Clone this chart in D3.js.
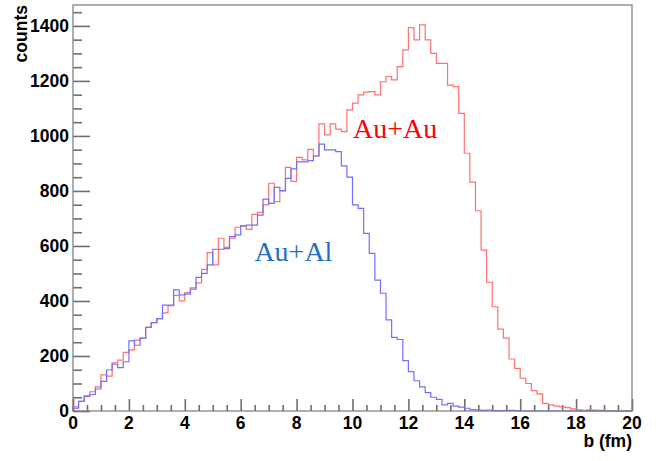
<!DOCTYPE html>
<html>
<head>
<meta charset="utf-8">
<script src="https://cdn.jsdelivr.net/npm/d3@7"></script>
<style>
  html, body { margin: 0; padding: 0; background: #fff; }
  svg { display: block; }
</style>
</head>
<body>
<svg id="chart" width="668" height="461"></svg>
<script>
// ---- Data (100 bins of width 0.2 fm, b from 0 to 20) ----
const binEdges = [0, 20];
const binCount = 100;
const auAu = [
  15, 35, 52, 70, 88, 131, 127, 175, 185, 213,
  222, 258, 265, 304, 321, 336, 357, 383, 420, 400,
  430, 448, 466, 515, 576, 531, 628, 595, 628, 668,
  673, 660, 715, 722, 749, 828, 761, 800, 886, 835,
  922, 913, 951, 927, 1044, 1004, 1044, 1025, 1016, 1095,
  1119, 1149, 1159, 1161, 1149, 1197, 1216, 1204, 1252, 1313,
  1394, 1349, 1404, 1349, 1300, 1264, 1264, 1185, 1179, 1082,
  937, 832, 728, 585, 468, 379, 298, 265, 189, 155,
  119, 100, 74, 62, 28, 22, 18, 15, 12, 8,
  4, 2, 4, 3, 2, 1, 0, 0, 0, 0
];
const auAl = [
  10, 35, 55, 60, 80, 108, 149, 170, 158, 179,
  255, 239, 265, 304, 321, 336, 385, 385, 440, 422,
  425, 443, 486, 500, 531, 588, 588, 590, 634, 640,
  673, 676, 676, 712, 770, 755, 813, 801, 846, 880,
  906, 906, 910, 927, 970, 949, 949, 943, 891, 850,
  749, 737, 646, 573, 476, 428, 331, 268, 260, 183,
  143, 110, 88, 67, 50, 42, 22, 28, 18, 14,
  10, 5, 3, 2, 3, 1, 1, 1, 2, 1,
  0, 0, 0, 0, 0, 0, 0, 0, 0, 0,
  0, 0, 0, 0, 0, 0, 0, 0, 0, 0
];
const seriesNames = ["Au+Au", "Au+Al"];
const xDomain = [0, 20];
const yDomain = [0, 1476];
const xMajorTicks = [0, 2, 4, 6, 8, 10, 12, 14, 16, 18, 20];
const yMajorTicks = [0, 200, 400, 600, 800, 1000, 1200, 1400];
const xTitle = "b (fm)";
const yTitle = "counts";

// ---- Layout ----
const svg = d3.select("#chart");
const L = 73, R = 632, T = 5, B = 411;
const x = d3.scaleLinear().domain(xDomain).range([L, R]);
const y = d3.scaleLinear().domain(yDomain).range([B, T]);
const axisColor = "#6e6e6e";
const tickFont = "'Liberation Sans', Arial, sans-serif";

// histogram path builder
const binW = (binEdges[1] - binEdges[0]) / binCount;
function histPath(vals) {
  const p = d3.path();
  p.moveTo(x(0), y(0));
  vals.forEach((v, i) => {
    p.lineTo(x(i * binW), y(v));
    p.lineTo(x((i + 1) * binW), y(v));
  });
  p.lineTo(x(binCount * binW), y(0));
  return p.toString();
}

// Tick marks (standard d3 axes, drawn inward)
const xMinor = d3.range(0, 20.001, 0.5).filter(v => !xMajorTicks.includes(v));
const yMinor = d3.range(0, 1451, 50).filter(v => !yMajorTicks.includes(v));

function styleAxis(g) {
  g.select(".domain").remove();
  g.selectAll(".tick line").attr("stroke", axisColor).attr("stroke-width", 1.6);
  g.selectAll(".tick text").remove();
}
svg.append("g").attr("transform", `translate(0,${B})`)
  .call(d3.axisTop(x).tickValues(xMajorTicks).tickSize(12)).call(styleAxis);
svg.append("g").attr("transform", `translate(0,${B})`)
  .call(d3.axisTop(x).tickValues(xMinor).tickSize(6)).call(styleAxis);
svg.append("g").attr("transform", `translate(${L},0)`)
  .call(d3.axisRight(y).tickValues(yMajorTicks).tickSize(17)).call(styleAxis);
svg.append("g").attr("transform", `translate(${L},0)`)
  .call(d3.axisRight(y).tickValues(yMinor).tickSize(9)).call(styleAxis);

svg.append("path").attr("d", histPath(auAu))
  .attr("fill", "none").attr("stroke", "#ff7070").attr("stroke-width", 1.2);
svg.append("path").attr("d", histPath(auAl))
  .attr("fill", "none").attr("stroke", "#7070ff").attr("stroke-width", 1.2);

// frame
svg.append("rect")
  .attr("x", L).attr("y", T)
  .attr("width", R - L).attr("height", B - T)
  .attr("fill", "none").attr("stroke", "#7a7a7a").attr("stroke-width", 1.2);

// Tick labels
svg.append("g").selectAll("text").data(xMajorTicks).join("text")
  .attr("x", d => x(d)).attr("y", 429)
  .attr("text-anchor", "middle").attr("font-family", tickFont)
  .attr("font-weight", "bold").attr("font-size", "17.5px").attr("fill", "#000")
  .text(d3.format("d"));
svg.append("g").selectAll("text").data(yMajorTicks).join("text")
  .attr("x", 69).attr("y", d => y(d)).attr("dy", "0.36em")
  .attr("text-anchor", "end").attr("font-family", tickFont)
  .attr("font-weight", "bold").attr("font-size", "17.5px").attr("fill", "#000")
  .text(d3.format("d"));

// Axis titles
svg.append("text").attr("x", R).attr("y", 447)
  .attr("text-anchor", "end").attr("font-family", tickFont)
  .attr("font-weight", "bold").attr("font-size", "17.5px").text(xTitle);
svg.append("text").attr("transform", `translate(27,${T}) rotate(-90)`)
  .attr("text-anchor", "end").attr("font-family", tickFont)
  .attr("font-weight", "bold").attr("font-size", "17.5px").text(yTitle);

// Series labels
const serif = "'Liberation Serif', 'Times New Roman', serif";
svg.append("text").attr("x", x(10.02)).attr("y", y(993))
  .attr("font-family", serif).attr("font-size", "28px").attr("fill", "#ff0000").text(seriesNames[0]);
svg.append("text").attr("x", x(6.49)).attr("y", y(545))
  .attr("font-family", serif).attr("font-size", "28px").attr("fill", "#1f70c0").text(seriesNames[1]);
</script>
</body>
</html>
